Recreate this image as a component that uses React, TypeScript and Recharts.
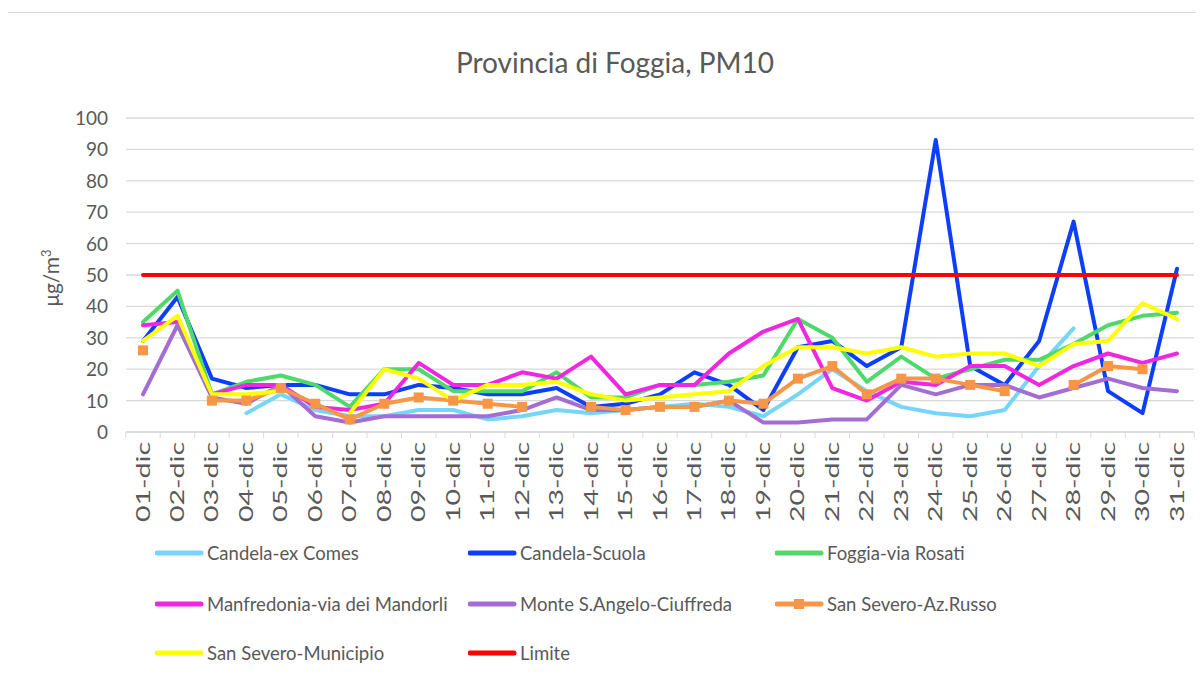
import { CartesianGrid, Line, LineChart, XAxis, YAxis } from 'recharts';

const days = [
  '01-dic', '02-dic', '03-dic', '04-dic', '05-dic', '06-dic', '07-dic', '08-dic',
  '09-dic', '10-dic', '11-dic', '12-dic', '13-dic', '14-dic', '15-dic', '16-dic',
  '17-dic', '18-dic', '19-dic', '20-dic', '21-dic', '22-dic', '23-dic', '24-dic',
  '25-dic', '26-dic', '27-dic', '28-dic', '29-dic', '30-dic', '31-dic',
];

const candelaExComes = [null, null, null, 6, 12, 7, 5, 5, 7, 7, 4, 5, 7, 6, 7, 8, 9, 8, 5, 12, 20, 13, 8, 6, 5, 7, 21, 33, null, null, null];
const candelaScuola = [29, 43, 17, 14, 15, 15, 12, 12, 15, 14, 12, 12, 14, 8, 9, 12, 19, 15, 7, 27, 29, 21, 27, 93, 21, 15, 29, 67, 13, 6, 52];
const foggiaRosati = [35, 45, 12, 16, 18, 15, 8, 20, 20, 13, 13, 13, 19, 11, 11, 15, 15, 16, 18, 36, 30, 16, 24, 17, 20, 23, 23, 28, 34, 37, 38];
const manfredonia = [34, 35, 12, 15, 15, 8, 7, 9, 22, 15, 15, 19, 17, 24, 12, 15, 15, 25, 32, 36, 14, 10, 16, 15, 21, 21, 15, 21, 25, 22, 25];
const monteSAngelo = [12, 34, 11, 9, 15, 5, 3, 5, 5, 5, 5, 7, 11, 7, 7, 8, 8, 10, 3, 3, 4, 4, 15, 12, 15, 15, 11, 14, 17, 14, 13];
const sanSeveroRusso = [26, null, 10, 10, 14, 9, 4, 9, 11, 10, 9, 8, null, 8, 7, 8, 8, 10, 9, 17, 21, 12, 17, 17, 15, 13, null, 15, 21, 20, null];
const sanSeveroMunicipio = [29, 37, 12, 12, 13, null, 6, 20, 17, 10, 15, 15, 16, 12, 10, 11, 12, 13, 21, 27, 27, 25, 27, 24, 25, 25, 21, 28, 29, 41, 36];
const limite = days.map(() => 50);

const yTicks = [0, 10, 20, 30, 40, 50, 60, 70, 80, 90, 100];

const series = [
  { key: 'exComes', name: 'Candela-ex Comes', color: '#75d5fb', values: candelaExComes },
  { key: 'scuola', name: 'Candela-Scuola', color: '#0d3ffb', values: candelaScuola },
  { key: 'rosati', name: 'Foggia-via Rosati', color: '#4ed96a', values: foggiaRosati },
  { key: 'manfredonia', name: 'Manfredonia-via dei Mandorli', color: '#f026e0', values: manfredonia },
  { key: 'monte', name: 'Monte S.Angelo-Ciuffreda', color: '#a36dd3', values: monteSAngelo },
  { key: 'russo', name: 'San Severo-Az.Russo', color: '#f79646', values: sanSeveroRusso, marker: true },
  { key: 'municipio', name: 'San Severo-Municipio', color: '#ffff00', values: sanSeveroMunicipio },
  { key: 'limite', name: 'Limite', color: '#ff0000', values: limite },
];

const data = days.map((d, i) => {
  const row: Record<string, string | number | null> = { day: d };
  series.forEach((s) => {
    row[s.key] = s.values[i];
  });
  return row;
});

const FONT = "Lato, 'Open Sans', sans-serif";
const TEXT = '#595959';
const GRID = '#d9d9d9';
const PLOT_BOTTOM = 424;
const STEP = 34.47;

function XTick(props: any) {
  const { x, payload, index } = props;
  return (
    <g>
      <line x1={x - STEP / 2} x2={x - STEP / 2} y1={PLOT_BOTTOM} y2={PLOT_BOTTOM + 6} stroke={GRID} />
      {index === days.length - 1 && (
        <line x1={x + STEP / 2} x2={x + STEP / 2} y1={PLOT_BOTTOM} y2={PLOT_BOTTOM + 6} stroke={GRID} />
      )}
      <text
        transform={`translate(${x + 6.5},${PLOT_BOTTOM + 10}) rotate(-90) scale(1.5,1)`}
        textAnchor="end"
        fontSize={19}
        fontFamily={FONT}
        fill={TEXT}
      >
        {payload.value}
      </text>
    </g>
  );
}

function YTick(props: any) {
  const { y, payload } = props;
  return (
    <text x={100} y={y + 7} textAnchor="end" fontSize={19} fontFamily={FONT} fill={TEXT}>
      {payload.value}
    </text>
  );
}

function SquareDot(props: any) {
  const { cx, cy, value, stroke } = props;
  if (value == null || cx == null || cy == null) return null;
  return <rect x={cx - 5} y={cy - 5} width={10} height={10} fill={stroke} />;
}

const legendCols = [147, 460, 767];
const legendRows = [545, 596, 645];

function App() {
  return (
    <div style={{ position: 'relative', width: 1190, height: 666, fontFamily: FONT }}>
      <div
        style={{
          position: 'absolute',
          left: -4,
          top: 4,
          width: 1199,
          height: 669,
          borderTop: `1px solid ${GRID}`,
          borderLeft: `1px solid ${GRID}`,
          boxSizing: 'border-box',
        }}
      />
      <div
        style={{
          position: 'absolute',
          left: 0,
          width: 1214,
          top: 36,
          textAlign: 'center',
          fontSize: 28,
          color: TEXT,
          lineHeight: '36px',
        }}
      >
        Provincia di Foggia, PM10
      </div>
      <div
        style={{
          position: 'absolute',
          left: 42,
          top: 270,
          transform: 'translate(-50%, -50%) rotate(-90deg)',
          fontSize: 21,
          color: TEXT,
          whiteSpace: 'nowrap',
        }}
      >
        μg/m<sup style={{ fontSize: 13 }}>3</sup>
      </div>
      <LineChart
        width={1190}
        height={666}
        data={data}
        margin={{ top: 110, right: 4, left: 0, bottom: 142 }}
        style={{ position: 'absolute', left: 0, top: 0 }}
      >
        <CartesianGrid vertical={false} stroke={GRID} strokeWidth={1.3} />
        <XAxis
          dataKey="day"
          interval={0}
          height={100}
          padding={{ left: 17, right: 17 }}
          axisLine={{ stroke: GRID, strokeWidth: 1.3 }}
          tickLine={false}
          tick={<XTick />}
        />
        <YAxis
          width={118}
          domain={[0, 100]}
          ticks={yTicks}
          axisLine={false}
          tickLine={false}
          tick={<YTick />}
        />
        {series.map((s) => (
          <Line
            key={s.key}
            dataKey={s.key}
            name={s.name}
            stroke={s.color}
            strokeWidth={4}
            strokeLinecap="round"
            strokeLinejoin="round"
            dot={s.marker ? <SquareDot /> : false}
            activeDot={false}
            isAnimationActive={false}
          />
        ))}
      </LineChart>
      {series.map((s, i) => {
        const left = legendCols[i % 3];
        const top = legendRows[Math.floor(i / 3)];
        return (
          <div
            key={s.key}
            style={{
              position: 'absolute',
              left,
              top: top - 12,
              height: 24,
              display: 'flex',
              alignItems: 'center',
              whiteSpace: 'nowrap',
            }}
          >
            <svg width={52} height={24}>
              <line x1={2} x2={46} y1={12} y2={12} stroke={s.color} strokeWidth={5} strokeLinecap="round" />
              {s.marker && <rect x={19} y={7} width={10} height={10} fill={s.color} />}
            </svg>
            <span style={{ fontSize: 18.5, color: TEXT }}>{s.name}</span>
          </div>
        );
      })}
    </div>
  );
}

export default App;
